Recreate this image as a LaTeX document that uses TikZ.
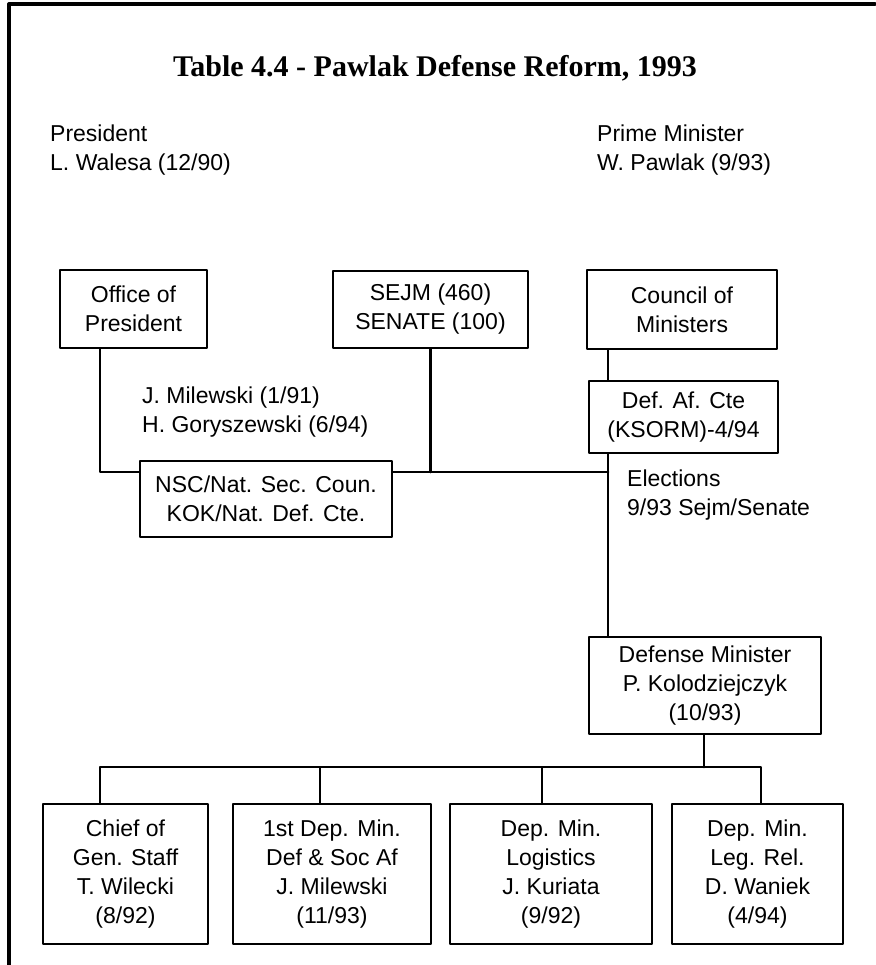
\documentclass[tikz,border=0pt]{standalone}
\usepackage{fontspec}
\setmainfont{Liberation Sans}
\newfontfamily\titlefont{Liberation Serif}
\begin{document}
\begin{tikzpicture}[x=1pt,y=-1pt,line join=round,line cap=round,
    orgbox/.style={draw,line width=2.8pt,fill=white,align=center,inner sep=0pt},
    lbl/.style={anchor=west,align=left,inner sep=0pt}]
            \useasboundingbox (0,0) rectangle (875,965);
            \fontsize{23}{29}\selectfont
            \draw[line width=3.2pt] (9,965)--(9,4)--(875,4);
            \node (title) at (435,68) {\titlefont\bfseries\fontsize{30}{34}\selectfont Table 4.4 - Pawlak Defense Reform, 1993};
            \node[lbl] (pres) at (50,150) {President\\L. Walesa (12/90)};
            \node[lbl] (pm) at (597,150) {Prime Minister\\W. Pawlak (9/93)};
            % top row
            \node[orgbox,minimum width=147pt,minimum height=78pt] (office) at (133.5,309) {Office of\\President};
            \node[orgbox,minimum width=195pt,minimum height=77pt] (sejm) at (430.5,309.5) {SEJM (460)\\SENATE (100)};
            \node[orgbox,minimum width=190pt,minimum height=79pt] (council) at (682,309.5) {Council of\\Ministers};
            \node[orgbox,minimum width=189pt,minimum height=72pt] (defaf) at (683.5,417) {Def. Af. Cte\\(KSORM)-4/94};
            \node[orgbox,minimum width=252pt,minimum height=76pt] (nsc) at (266,499) {NSC/Nat. Sec. Coun.\\KOK/Nat. Def. Cte.};
            \node[lbl] (kok) at (142,412.5) {J. Milewski (1/91)\\H. Goryszewski (6/94)};
            \node[lbl] (elect) at (627,495.5) {Elections\\9/93 Sejm/Senate};
            \node[orgbox,minimum width=232pt,minimum height=97pt] (defmin) at (705,685.5) {Defense Minister\\P. Kolodziejczyk\\(10/93)};
            % bottom row
            \foreach \n/\x/\w/\t in {chief/125.5/165/{Chief of\\Gen. Staff\\T. Wilecki\\(8/92)},
                first/332/198/{1st Dep. Min.\\Def \& Soc Af\\J. Milewski\\(11/93)},
                logist/551/202/{Dep. Min.\\Logistics\\J. Kuriata\\(9/92)},
                legrel/757.5/171/{Dep. Min.\\Leg. Rel.\\D. Waniek\\(4/94)}}
            \node[orgbox,minimum width=\w pt,minimum height=140pt] (\n) at (\x,874) {\t};
            % connectors
            \coordinate (left) at (100,472);
            \coordinate (hub) at (608,472);
            \coordinate (bus) at (704,767);
            \begin{scope}[line width=2.8pt]
                \draw (office.south -| left)--(left)--(nsc.west |- left);
                \draw (nsc.east |- hub)--(hub);
                \draw (sejm.south)--(sejm.south |- hub);
                \draw (council.south -| hub)--(defaf.north -| hub);
                \draw (defaf.south -| hub)--(defmin.north -| hub);
                \draw (defmin.south -| bus)--(bus);
                \foreach \n/\x in {chief/100,first/320,logist/542,legrel/761}
                \draw (\n.north -| \x,0) |- (bus);
            \end{scope}
    \end{tikzpicture}
\end{document}
